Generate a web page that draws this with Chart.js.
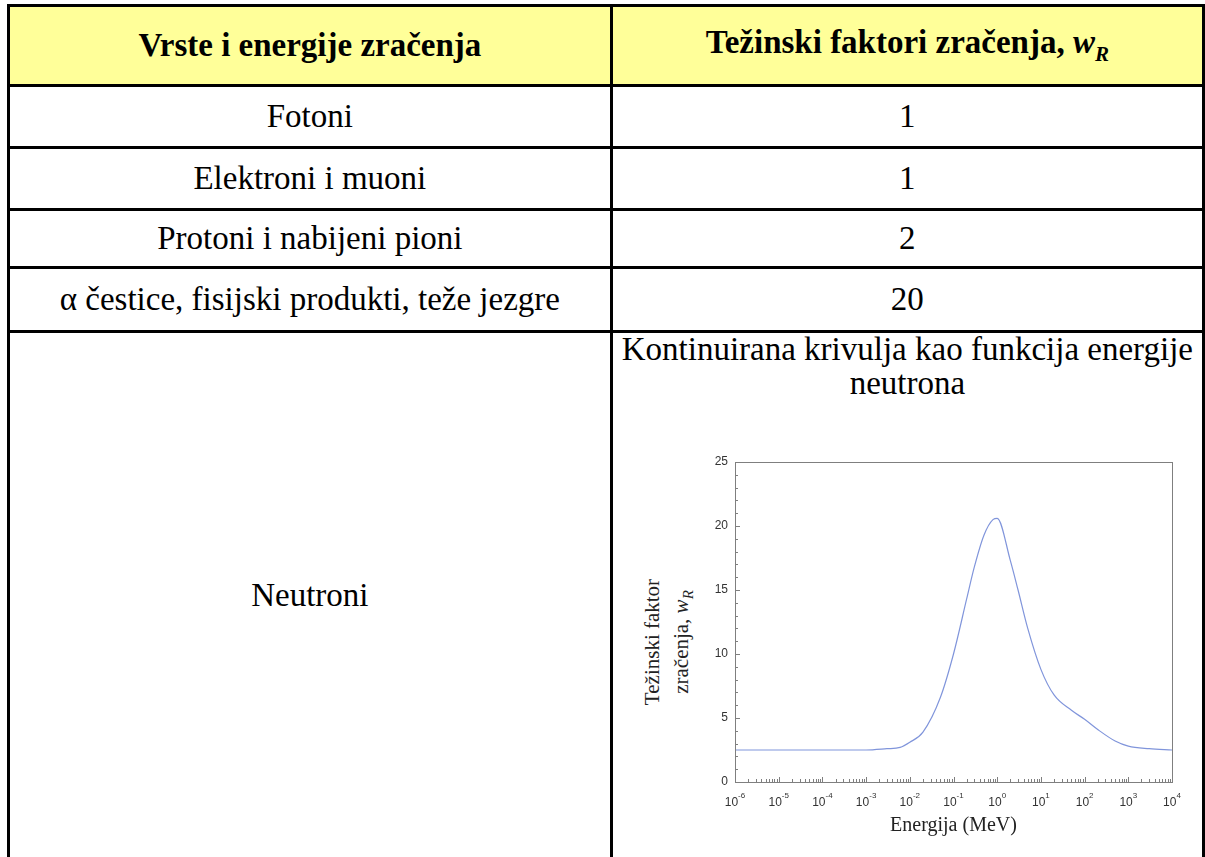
<!DOCTYPE html>
<html>
<head>
<meta charset="utf-8">
<script src="https://cdn.jsdelivr.net/npm/chart.js@4.4.1/dist/chart.umd.min.js"></script>
<style>
  body { margin: 0; background: #fff; width: 1205px; height: 857px; overflow: hidden; position: relative; }
  table { position: absolute; left: 7px; top: 4px; border-collapse: collapse; }
  td, th { border: 3px solid #000; text-align: center; padding: 0; color: #000;
           font-family: "Liberation Serif", "Times New Roman", serif; font-size: 33px; }
  th { background: #ffff99; font-weight: bold; }
  .neu { vertical-align: top; line-height: 34px; }
  .neu div { margin-top: -1px; }
  #wrap { position: absolute; left: 690px; top: 450px; width: 500px; height: 390px; }
  #ytitle { position: absolute; left: 555px; top: 610px; width: 230px; height: 64px; transform: rotate(-90deg); transform-origin: 50% 50%;
            font-family: "Liberation Serif", "Times New Roman", serif; font-size: 21px; line-height: 29px; text-align: center; color: #222; }
</style>
</head>
<body>
<table>
  <colgroup><col style="width:607px"><col style="width:596px"></colgroup>
  <tr style="height:80px"><th>Vrste i energije zračenja</th><th>Težinski faktori zračenja, <i>w<sub style="font-size:21px">R</sub></i></th></tr>
  <tr style="height:62px"><td>Fotoni</td><td>1</td></tr>
  <tr style="height:62px"><td>Elektroni i muoni</td><td>1</td></tr>
  <tr style="height:58px"><td>Protoni i nabijeni pioni</td><td>2</td></tr>
  <tr style="height:64px"><td>α čestice, fisijski produkti, teže jezgre</td><td>20</td></tr>
  <tr style="height:528px"><td>Neutroni</td><td class="neu"><div>Kontinuirana krivulja kao funkcija energije<br>neutrona</div></td></tr>
</table>
<div id="ytitle">Težinski faktor<br>zračenja, <i>w<sub style="font-size:15px">R</sub></i></div>
<div id="wrap"><canvas id="c"></canvas></div>
<script>
// neutron energy (MeV) and radiation weighting factor
const energyMeV = [1e-6, 1e-5, 1e-4, 1e-3, 3e-3, 6e-3, 1e-2, 2e-2, 5e-2, 0.1, 0.2, 0.3, 0.5, 0.8, 1, 2, 3, 5, 10, 20, 50, 100, 200, 500, 1000, 3000, 1e4];
const weightFactor = [2.5, 2.5, 2.5, 2.5, 2.6, 2.7, 3.1, 3.9, 6.6, 10.0, 14.3, 16.8, 19.3, 20.5, 20.6, 17.3, 15.0, 12.0, 8.8, 6.8, 5.6, 4.9, 4.1, 3.2, 2.8, 2.6, 2.5];
const yMajorTicks = [0, 5, 10, 15, 20, 25];
const xDecades = [-6, -5, -4, -3, -2, -1, 0, 1, 2, 3, 4];

const axisColor = "#7f7f7f";
const tickFont = "12px 'Liberation Sans', Arial, sans-serif";
const expFont = "8px 'Liberation Sans', Arial, sans-serif";

// draws frame, inward ticks and tick labels like the original plot
const frameAxes = {
    id: "frameAxes",
    afterDraw(chart) {
        const ctx = chart.ctx
        const a = chart.chartArea
        const xs = chart.scales.x
        const ys = chart.scales.y
        ctx.save()
        ctx.strokeStyle = axisColor
        ctx.lineWidth = 1
        ctx.strokeRect(Math.round(a.left) + 0.5, Math.round(a.top) + 0.5, Math.round(a.right - a.left), Math.round(a.bottom - a.top))

        ctx.beginPath()
        for (let v = 0; v <= 25; v++) {
            const y = Math.round(ys.getPixelForValue(v)) + 0.5
            const len = v % 5 === 0 ? 5 : 3
            ctx.moveTo(a.left, y)
            ctx.lineTo(a.left + len, y)
        }
        xDecades.forEach(d => {
            const x = Math.round(xs.getPixelForValue(Math.pow(10, d))) + 0.5
            ctx.moveTo(x, a.bottom)
            ctx.lineTo(x, a.bottom - 5)
            if (d < 4) {
                for (let m = 2; m <= 9; m++) {
                    const xm = Math.round(xs.getPixelForValue(m * Math.pow(10, d))) + 0.5
                    ctx.moveTo(xm, a.bottom)
                    ctx.lineTo(xm, a.bottom - 3)
                }
            }
        })
        ctx.stroke()

        ctx.fillStyle = "#333"
        ctx.font = tickFont
        ctx.textAlign = "right"
        ctx.textBaseline = "middle"
        yMajorTicks.forEach(v => {
            ctx.fillText(String(v), a.left - 7, ys.getPixelForValue(v))
        })

        ctx.textBaseline = "alphabetic"
        ctx.textAlign = "left"
        xDecades.forEach(d => {
            const x = xs.getPixelForValue(Math.pow(10, d))
            const exp = String(d)
            ctx.font = tickFont
            const wBase = ctx.measureText("10").width
            ctx.font = expFont
            const wExp = ctx.measureText(exp).width
            const x0 = x - (wBase + wExp) / 2
            ctx.font = tickFont
            ctx.fillText("10", x0, a.bottom + 24)
            ctx.font = expFont
            ctx.fillText(exp, x0 + wBase, a.bottom + 16)
        })
        ctx.restore()
    }
}

const chart = new Chart(document.getElementById("c"), {
    type: "line",
    data: {
        datasets: [{
            data: energyMeV.map((e, i) => ({ x: e, y: weightFactor[i] })),
            borderColor: "#8095db",
            borderWidth: 1.2,
            pointRadius: 0,
            cubicInterpolationMode: "monotone",
            fill: false
        }]
    },
    options: {
        responsive: true,
        maintainAspectRatio: false,
        animation: false,
        layout: { padding: { left: 0, right: 18, top: 12, bottom: 0 } },
        plugins: { legend: { display: false }, tooltip: { enabled: false } },
        scales: {
            x: {
                type: "logarithmic",
                min: 1e-6,
                max: 1e4,
                grid: { display: false },
                border: { display: false },
                ticks: { display: false },
                title: {
                    display: true,
                    text: "Energija (MeV)",
                    color: "#222",
                    font: { family: "'Liberation Serif', 'Times New Roman', serif", size: 20 },
                    padding: { top: 0, bottom: 2 }
                },
                afterFit: s => { s.height = 58 }
            },
            y: {
                min: 0,
                max: 25,
                grid: { display: false },
                border: { display: false },
                ticks: { display: false },
                afterFit: s => { s.width = 45 }
            }
        }
    },
    plugins: [frameAxes]
})
</script>
</body>
</html>
